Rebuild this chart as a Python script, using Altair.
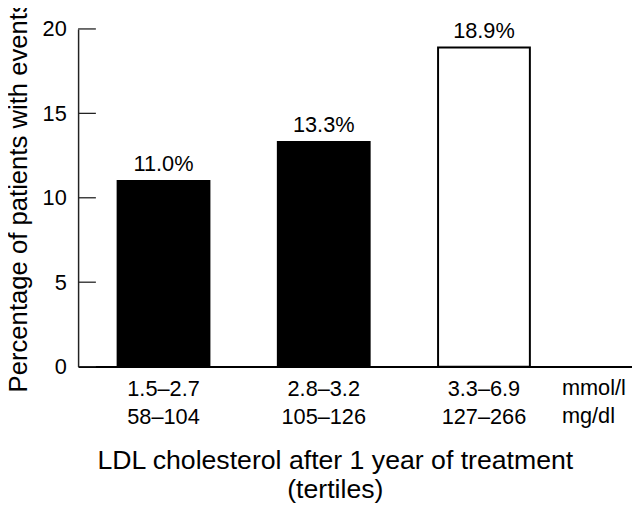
import altair as alt
import pandas as pd

# ---- data ----
mmol = ["1.5–2.7", "2.8–3.2", "3.3–6.9"]
mgdl = ["58–104", "105–126", "127–266"]
pct = [11.0, 13.3, 18.9]
fills = ["black", "black", "white"]
y_ticks = [0, 5, 10, 15, 20]
units = ["mmol/l", "mg/dl"]

FONT = "Liberation Sans"

cats = [f"{a}|{b}" for a, b in zip(mmol, mgdl)]
df = pd.DataFrame({
    "cat": cats,
    "pct": pct,
    "fill": fills,
    "lab": [f"{v:.1f}%" for v in pct],
})
tick_df = pd.DataFrame({"v": y_ticks})
unit_df = pd.DataFrame({"u": ["\n".join(units)]})

x_enc = alt.X(
    "cat:N",
    sort=None,
    scale=alt.Scale(paddingInner=0.427, paddingOuter=0.442, align=0.279),
    axis=alt.Axis(
        title=["LDL cholesterol after 1 year of treatment", "(tertiles)"],
        labelExpr="split(datum.label, '|')",
        labelAngle=0,
        ticks=False,
        tickSize=0,
        labelPadding=12,
        labelFont=FONT,
        labelFontSize=22,
        labelLineHeight=28.5,
        labelColor="black",
        domainColor="black",
        domainWidth=2,
        titleFont=FONT,
        titleFontSize=27,
        titleFontWeight="normal",
        titleColor="black",
        titleLineHeight=30,
        titleX=260,
        titleY=82,
        titleAlign="center",
        titleBaseline="top",
    ),
)

y_scale = alt.Scale(domain=[0, 20], nice=False)

y_enc = alt.Y(
    "pct:Q",
    scale=y_scale,
    axis=alt.Axis(
        values=y_ticks,
        title="Percentage of patients with events",
        grid=False,
        ticks=False,
        tickSize=0,
        labelPadding=12,
        labelFont=FONT,
        labelFontSize=22,
        labelColor="black",
        domainColor="#222",
        domainWidth=1.5,
        titleFont=FONT,
        titleFontSize=26,
        titleFontWeight="normal",
        titleColor="black",
        titleAngle=270,
        titleX=-73,
        titleY=169,
        titleAlign="center",
        titleBaseline="top",
    ),
)

bars = alt.Chart(df).mark_bar(stroke="black", strokeWidth=2).encode(
    x=x_enc,
    y=y_enc,
    fill=alt.Fill("fill:N", scale=None),
)

labels = alt.Chart(df).mark_text(
    baseline="alphabetic", dy=-10, font=FONT, fontSize=22, color="black"
).encode(
    x=alt.X("cat:N", sort=None),
    y=alt.Y("pct:Q"),
    text="lab:N",
)

inward_ticks = alt.Chart(tick_df).mark_rule(color="#222", strokeWidth=1.3).encode(
    y=alt.Y("v:Q", scale=y_scale),
    x=alt.value(0),
    x2=alt.value(18),
)

unit_text = alt.Chart(unit_df).mark_text(
    align="left", baseline="alphabetic", lineBreak="\n", lineHeight=28.5,
    font=FONT, fontSize=22, color="black",
).encode(
    x=alt.value(490),
    y=alt.value(370.7),
    text="u:N",
)

chart = (
    alt.layer(bars, labels, inward_ticks, unit_text)
    .properties(
        width=561,
        height=342,
        autosize=alt.AutoSizeParams(type="none"),
        padding={"left": 71, "top": 18, "right": 0, "bottom": 141},
        background="white",
    )
    .configure_view(strokeWidth=0)
)

chart.save("out.html", embed_options={"renderer": "svg", "actions": False})
